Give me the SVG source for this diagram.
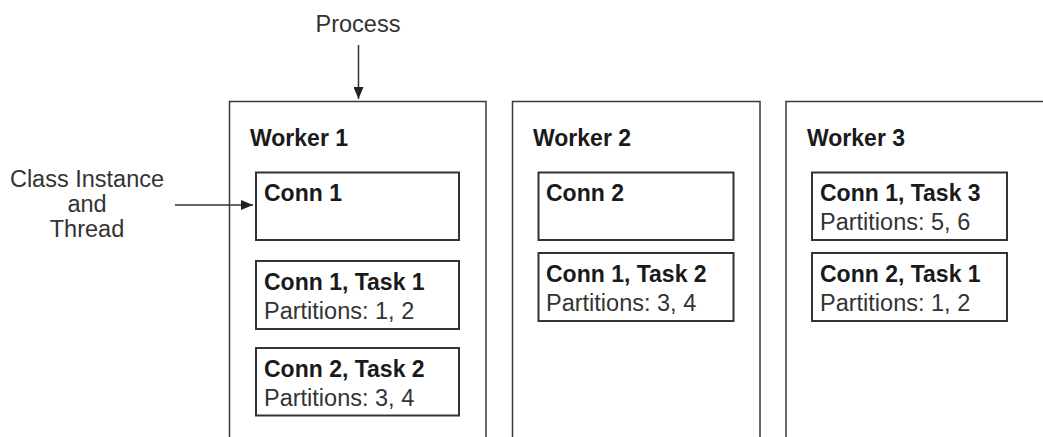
<svg xmlns="http://www.w3.org/2000/svg" width="1043" height="437" viewBox="0 0 1043 437">
<style>
.bg{fill:#fff}
.worker{fill:#fff;stroke:#3a3a3a;stroke-width:1.5}
.box{fill:#fff;stroke:#333;stroke-width:2}
.b{font-family:"Liberation Sans",Arial,sans-serif;font-weight:bold;font-size:23px;fill:#1a1a1a}
.r{font-family:"Liberation Sans",Arial,sans-serif;font-size:23.5px;fill:#333}
.line{stroke:#333;stroke-width:1.5;fill:none}
</style>
<defs>
<marker id="ah" viewBox="0 0 12 10" refX="12" refY="5" markerWidth="12" markerHeight="10" markerUnits="userSpaceOnUse" orient="auto">
<path d="M0,0 L12,5 L0,10 Z" fill="#222"/>
</marker>
</defs>
<rect class="bg" x="0" y="0" width="1043" height="437"/>
<g id="process-label"><text class="r" x="358" y="32" text-anchor="middle">Process</text></g>
<g id="class-label">
<text class="r" x="87" y="187" text-anchor="middle">Class Instance</text>
<text class="r" x="87" y="212" text-anchor="middle">and</text>
<text class="r" x="87" y="237" text-anchor="middle">Thread</text>
</g>
<g id="worker1">
<rect class="worker" x="229.5" y="101.5" width="256.5" height="360"/>
<text class="b" x="250" y="146">Worker 1</text>
</g>
<g id="w1-conn1">
<rect class="box" x="256" y="172.5" width="203" height="67.5"/>
<text class="b" x="264" y="201">Conn 1</text>
</g>
<g id="w1-conn1-task1">
<rect class="box" x="256" y="261" width="203" height="68"/>
<text class="b" x="264" y="290">Conn 1, Task 1</text>
<text class="r" x="264" y="319">Partitions: 1, 2</text>
</g>
<g id="w1-conn2-task2">
<rect class="box" x="256" y="348" width="203" height="67.5"/>
<text class="b" x="264" y="377">Conn 2, Task 2</text>
<text class="r" x="264" y="406">Partitions: 3, 4</text>
</g>
<g id="worker2">
<rect class="worker" x="512.5" y="101.5" width="247.5" height="360"/>
<text class="b" x="533" y="146">Worker 2</text>
</g>
<g id="w2-conn2">
<rect class="box" x="538.5" y="172.5" width="195" height="67.5"/>
<text class="b" x="546" y="201">Conn 2</text>
</g>
<g id="w2-conn1-task2">
<rect class="box" x="538.5" y="253" width="195" height="68"/>
<text class="b" x="546" y="282">Conn 1, Task 2</text>
<text class="r" x="546" y="311">Partitions: 3, 4</text>
</g>
<g id="worker3">
<rect class="worker" x="786" y="101.5" width="300" height="360"/>
<text class="b" x="807" y="146">Worker 3</text>
</g>
<g id="w3-conn1-task3">
<rect class="box" x="812" y="172.5" width="195" height="67.5"/>
<text class="b" x="820" y="201">Conn 1, Task 3</text>
<text class="r" x="820" y="230">Partitions: 5, 6</text>
</g>
<g id="w3-conn2-task1">
<rect class="box" x="812" y="253" width="195" height="68"/>
<text class="b" x="820" y="282">Conn 2, Task 1</text>
<text class="r" x="820" y="311">Partitions: 1, 2</text>
</g>
<g id="connectors">
<line class="line" x1="358.5" y1="45" x2="358.5" y2="99" marker-end="url(#ah)"/>
<line class="line" x1="175" y1="205" x2="253" y2="205" marker-end="url(#ah)"/>
</g>
</svg>
